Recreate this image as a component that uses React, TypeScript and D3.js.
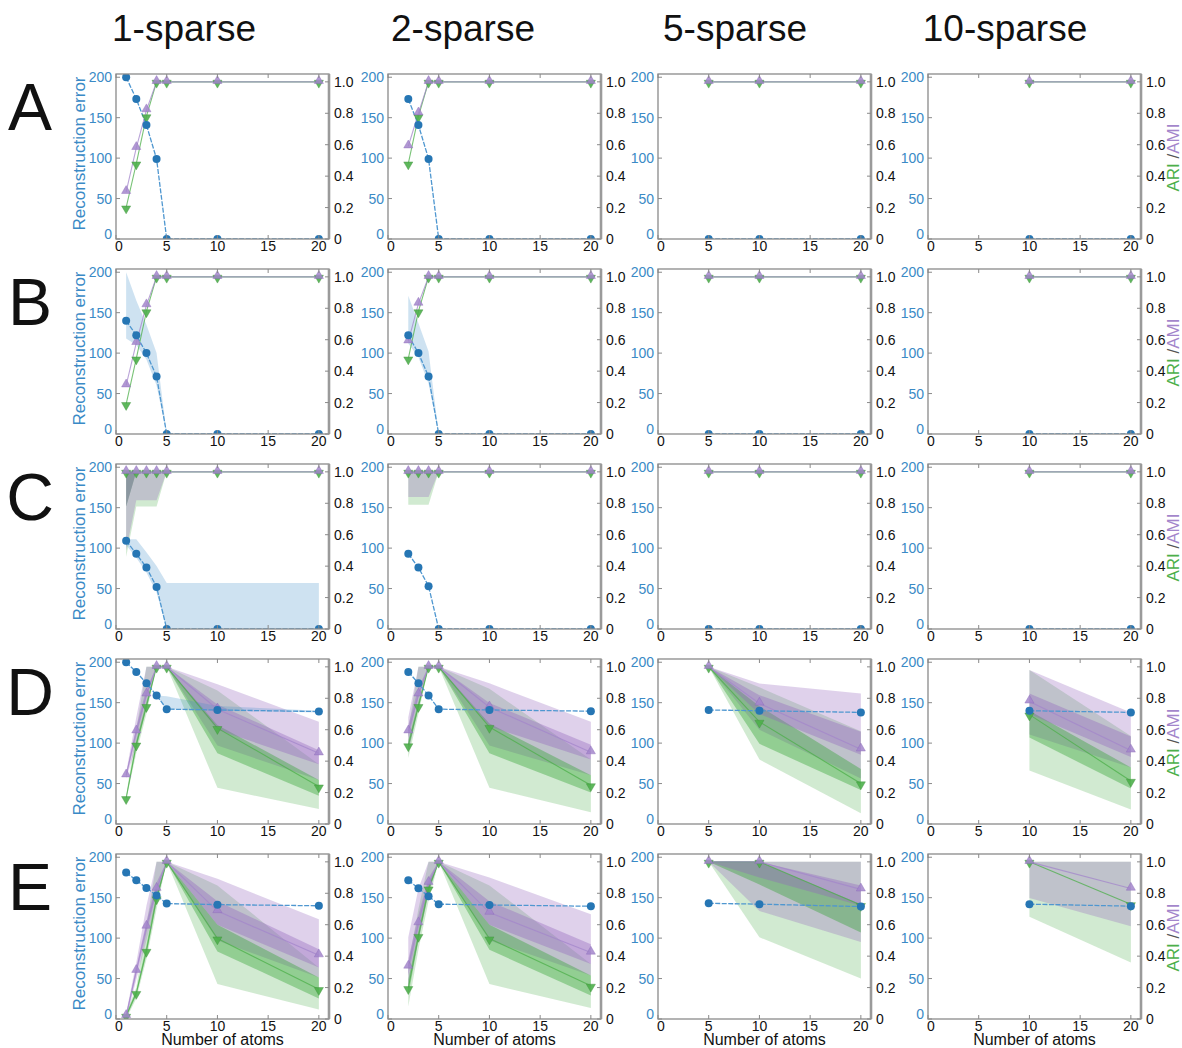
import React from 'react';
import * as d3 from 'd3';

// Column / row headings
const sparsity = ['1-sparse', '2-sparse', '5-sparse', '10-sparse'];
const rowLetters = ['A', 'B', 'C', 'D', 'E'];
// number of atoms evaluated for each sparsity level
const atoms = [[1, 2, 3, 4, 5, 10, 20], [2, 3, 4, 5, 10, 20], [5, 10, 20], [10, 20]];
const xTicks = [0, 5, 10, 15, 20];
const errTicks = [0, 50, 100, 150, 200];
const scoreTicks = [0, 0.2, 0.4, 0.6, 0.8, 1.0];

// Reconstruction error, median per point: [row][column][point]
const recon = [
  [[200, 173, 141, 99, 0, 0, 0], [173, 141, 99, 0, 0, 0], [0, 0, 0], [0, 0]],
  [[140, 122, 100, 71, 0, 0, 0], [122, 100, 71, 0, 0, 0], [0, 0, 0], [0, 0]],
  [[109, 93, 76, 52, 0, 0, 0], [93, 76, 53, 0, 0, 0], [0, 0, 0], [0, 0]],
  [[200, 188, 174, 159, 142, 141, 139], [188, 174, 159, 142, 141, 139.5], [141, 140, 138], [140, 138]],
  [[181, 171.5, 162, 152.6, 142.7, 141.4, 140], [171.5, 161.6, 151.7, 142, 141, 139.4], [143, 142, 139], [142, 139.5]],
];
const reconLo = [
  [null, null, null, null],
  [[118, 110, 92, 60, 0, 0, 0], [112, 95, 62, 0, 0, 0], null, null],
  [[104, 88, 70, 45, 0, 0, 0], null, null, null],
  [[200, 188, 174, 159, 142, 140, 138], null, null, null],
  [null, null, null, null],
];
const reconHi = [
  [null, null, null, null],
  [[200, 165, 135, 100, 0, 0, 0], [171, 137, 102, 0, 0, 0], null, null],
  [[111, 111, 95, 78, 57, 57, 57], null, null, null],
  [[200, 188, 174, 159, 158, 146, 140], null, null, null],
  [null, null, null, null],
];

// AMI medians and bands
const ami = [
  [[0.30, 0.58, 0.82, 1, 1, 1, 1], [0.59, 0.80, 1, 1, 1, 1], [1, 1, 1], [1, 1]],
  [[0.31, 0.58, 0.82, 1, 1, 1, 1], [0.59, 0.83, 1, 1, 1, 1], [1, 1, 1], [1, 1]],
  [[1, 1, 1, 1, 1, 1, 1], [1, 1, 1, 1, 1, 1], [1, 1, 1], [1, 1]],
  [[0.31, 0.59, 0.825, 1, 1, 0.73, 0.45], [0.59, 0.825, 1, 1, 0.743, 0.457], [1, 0.767, 0.475], [0.78, 0.468]],
  [[0.02, 0.307, 0.588, 0.829, 1, 0.687, 0.406], [0.334, 0.61, 0.867, 1, 0.677, 0.423], [1, 1, 0.825], [1, 0.83]],
];
const amiLo95 = [
  [null, null, null, null],
  [null, null, null, null],
  [[0.5, 0.82, 0.82, 0.82, 1, 1, 1], [0.84, 0.84, 0.84, 1, 1, 1], null, null],
  [[0.29, 0.5, 0.75, 1, 1, 0.5, 0.28], [0.45, 0.75, 1, 1, 0.5, 0.31], [1, 0.6, 0.29], [0.57, 0.36]],
  [[0, 0.25, 0.5, 0.75, 1, 0.5, 0.264], [0.2, 0.5, 0.8, 1, 0.5, 0.277], [1, 0.687, 0.49], [0.77, 0.59]],
];
const amiHi95 = [
  [null, null, null, null],
  [null, null, null, null],
  [[1, 1, 1, 1, 1, 1, 1], [1, 1, 1, 1, 1, 1], null, null],
  [[0.33, 0.68, 1, 1, 1, 0.89, 0.65], [0.68, 1, 1, 1, 0.895, 0.65], [1, 0.894, 0.83], [0.98, 0.71]],
  [[0.04, 0.36, 0.72, 1, 1, 0.892, 0.635], [0.52, 0.83, 1, 1, 0.9, 0.666], [1, 1, 1], [1, 1]],
];
const amiLo68 = [
  [null, null, null, null],
  [null, null, null, null],
  [[0.78, 1, 1, 1, 1, 1, 1], null, null, null],
  [[0.30, 0.56, 0.8, 1, 1, 0.6, 0.38], [0.55, 0.8, 1, 1, 0.62, 0.41], [1, 0.7, 0.44], [0.7, 0.426]],
  [[0.01, 0.28, 0.55, 0.8, 1, 0.6, 0.328], [0.28, 0.57, 0.84, 1, 0.6, 0.35], [1, 0.9, 0.72], null],
];
const amiHi68 = [
  [null, null, null, null],
  [null, null, null, null],
  [[1, 1, 1, 1, 1, 1, 1], null, null, null],
  [[0.32, 0.62, 0.86, 1, 1, 0.76, 0.47], [0.63, 0.87, 1, 1, 0.77, 0.505], [1, 0.82, 0.587], [0.83, 0.557]],
  [[0.03, 0.33, 0.62, 0.87, 1, 0.75, 0.444], [0.38, 0.66, 0.9, 1, 0.75, 0.476], [1, 1, 0.85], null],
];

// ARI medians and bands
const ari = [
  [[0.20, 0.48, 0.78, 1, 1, 1, 1], [0.48, 0.78, 1, 1, 1, 1], [1, 1, 1], [1, 1]],
  [[0.19, 0.48, 0.78, 1, 1, 1, 1], [0.48, 0.78, 1, 1, 1, 1], [1, 1, 1], [1, 1]],
  [[1, 1, 1, 1, 1, 1, 1], [1, 1, 1, 1, 1, 1], [1, 1, 1], [1, 1]],
  [[0.164, 0.505, 0.75, 1, 1, 0.61, 0.238], [0.5, 0.75, 1, 1, 0.617, 0.246], [1, 0.65, 0.258], [0.696, 0.274]],
  [[0.02, 0.165, 0.433, 0.767, 1, 0.512, 0.19], [0.196, 0.528, 0.83, 1, 0.512, 0.211], [1, 1, 0.725], [1, 0.73]],
];
const ariLo95 = [
  [null, null, null, null],
  [null, null, null, null],
  [[0.46, 0.78, 0.78, 0.78, 1, 1, 1], [0.79, 0.79, 0.79, 1, 1, 1], null, null],
  [[0.15, 0.45, 0.7, 1, 1, 0.23, 0.095], [0.42, 0.7, 1, 1, 0.23, 0.074], [1, 0.41, 0.068], [0.34, 0.093]],
  [[0, 0.13, 0.38, 0.7, 1, 0.222, 0.06], [0.08, 0.44, 0.75, 1, 0.222, 0.07], [1, 0.52, 0.258], [0.65, 0.36]],
];
const ariHi95 = [
  [null, null, null, null],
  [null, null, null, null],
  [[1, 1, 1, 1, 1, 1, 1], [1, 1, 1, 1, 1, 1], null, null],
  [[0.18, 0.6, 1, 1, 1, 0.85, 0.38], [0.6, 1, 1, 1, 0.86, 0.41], [1, 0.87, 0.59], [0.98, 0.56]],
  [[0.04, 0.2, 0.6, 1, 1, 0.85, 0.328], [0.35, 0.7, 1, 1, 0.85, 0.35], [1, 1, 1], [1, 1]],
];
const ariLo68 = [
  [null, null, null, null],
  [null, null, null, null],
  [[0.78, 1, 1, 1, 1, 1, 1], null, null, null],
  [[0.16, 0.48, 0.73, 1, 1, 0.45, 0.18], [0.47, 0.73, 1, 1, 0.45, 0.2], [1, 0.51, 0.216], [0.55, 0.226]],
  [[0.01, 0.15, 0.41, 0.74, 1, 0.43, 0.131], [0.15, 0.5, 0.8, 1, 0.44, 0.15], [1, 0.856, 0.55], null],
];
const ariHi68 = [
  [null, null, null, null],
  [null, null, null, null],
  [[1, 1, 1, 1, 1, 1, 1], null, null, null],
  [[0.17, 0.53, 0.78, 1, 1, 0.63, 0.28], [0.53, 0.78, 1, 1, 0.64, 0.31], [1, 0.75, 0.35], [0.72, 0.36]],
  [[0.03, 0.18, 0.47, 0.8, 1, 0.6, 0.264], [0.25, 0.56, 0.86, 1, 0.6, 0.277], [1, 1, 0.73], null],
];

// Layout
const W = 1182;
const H = 1048;
const colX = [116, 388, 658, 928];
const rowY = [74, 269, 464, 659, 854];
const PW = 213;
const PH = 165;
const titleDx = [68, 75, 77, 77];
const FONT = '"Liberation Sans", Arial, Helvetica, sans-serif';

const BLUE = '#2676b4';
const BLUE_TEXT = '#3a8ac6';
const BLUE_LINE = '#4f97d0';
const PURPLE = '#9467bd';
const PURPLE_MK = '#a386cb';
const GREEN = '#2ca02c';
const GREEN_MK = '#4caf4a';
const FRAME = '#8a8a8a';

type Arr = number[] | null;

function Panel({ r, c }: { r: number; c: number }) {
  const x0 = colX[c];
  const y0 = rowY[r];
  const xs = atoms[c];
  const x = d3.scaleLinear().domain([0, 21]).range([x0, x0 + PW]);
  const yL = d3.scaleLinear().domain([0, 204]).range([y0 + PH, y0]);
  const yR = d3.scaleLinear().domain([0, 1.05]).range([y0 + PH, y0]);

  const area = (lo: Arr, hi: Arr, y: d3.ScaleLinear<number, number>) => {
    if (!lo || !hi) return null;
    return d3
      .area<number>()
      .x((d) => x(d))
      .y0((_, i) => y(lo[i]))
      .y1((_, i) => y(hi[i]))(xs);
  };
  const line = (v: number[], y: d3.ScaleLinear<number, number>) =>
    d3
      .line<number>()
      .x((d) => x(d))
      .y((_, i) => y(v[i]))(xs);

  const triUp = d3.symbol().type(d3.symbolTriangle).size(36)() as string;

  const clipId = `clip-${r}-${c}`;
  const bands = [
    { d: area(ariLo95[r][c], ariHi95[r][c], yR), fill: GREEN, op: 0.22 },
    { d: area(amiLo95[r][c], amiHi95[r][c], yR), fill: PURPLE, op: 0.3 },
    { d: area(ariLo68[r][c], ariHi68[r][c], yR), fill: GREEN, op: 0.38 },
    { d: area(amiLo68[r][c], amiHi68[r][c], yR), fill: PURPLE, op: 0.38 },
    { d: area(reconLo[r][c], reconHi[r][c], yL), fill: '#3d8ac9', op: 0.25 },
  ];

  return (
    <g>
      <defs>
        <clipPath id={clipId}>
          <rect x={x0} y={y0} width={PW} height={PH} />
        </clipPath>
      </defs>
      <g clipPath={`url(#${clipId})`}>
        {bands.map((b, i) => (b.d ? <path key={i} d={b.d} fill={b.fill} fillOpacity={b.op} stroke="none" /> : null))}
        <path d={line(ari[r][c], yR) || ''} fill="none" stroke={GREEN_MK} strokeWidth={1.1} strokeOpacity={0.75} />
        <path d={line(ami[r][c], yR) || ''} fill="none" stroke={PURPLE_MK} strokeWidth={1.1} strokeOpacity={0.75} />
        <path d={line(recon[r][c], yL) || ''} fill="none" stroke={BLUE_LINE} strokeWidth={1.3} strokeDasharray="5,1.5" />
        {xs.map((d, i) => (
          <path
            key={`g${i}`}
            d={triUp}
            transform={`translate(${x(d)},${yR(ari[r][c][i]) + 1}) rotate(180)`}
            fill={GREEN_MK}
            fillOpacity={0.9}
            stroke="#3f8f3d"
            strokeWidth={0.4}
          />
        ))}
        {xs.map((d, i) => (
          <path
            key={`p${i}`}
            d={triUp}
            transform={`translate(${x(d)},${yR(ami[r][c][i]) - 1})`}
            fill={PURPLE_MK}
            fillOpacity={0.85}
            stroke="#8a6bb8"
            strokeWidth={0.4}
          />
        ))}
        {xs.map((d, i) => (
          <circle key={`b${i}`} cx={x(d)} cy={yL(recon[r][c][i])} r={4} fill={BLUE} />
        ))}
      </g>

      {/* frame and inward ticks */}
      <rect x={x0} y={y0} width={PW} height={PH} fill="none" stroke={FRAME} strokeWidth={1.3} />
      <line x1={x0 + PW} x2={x0 + PW} y1={y0} y2={y0 + PH} stroke="#9a9a9a" strokeWidth={2.6} />
      {xTicks.map((t) => (
        <g key={`xt${t}`} stroke={FRAME} strokeWidth={1}>
          <line x1={x(t)} x2={x(t)} y1={y0 + PH} y2={y0 + PH - 4} />
          <line x1={x(t)} x2={x(t)} y1={y0} y2={y0 + 4} />
        </g>
      ))}
      {errTicks.map((t) => (
        <line key={`lt${t}`} x1={x0} x2={x0 + 4} y1={yL(t)} y2={yL(t)} stroke={FRAME} strokeWidth={1} />
      ))}
      {scoreTicks.map((t) => (
        <line key={`rt${t}`} x1={x0 + PW - 4} x2={x0 + PW} y1={yR(t)} y2={yR(t)} stroke={FRAME} strokeWidth={1} />
      ))}

      {/* tick labels */}
      {xTicks.map((t) => (
        <text key={`xl${t}`} x={x(t) + (t === 0 ? 3 : 0)} y={y0 + PH + 11.5} textAnchor="middle" fontSize={14} fill="#111">
          {t}
        </text>
      ))}
      {errTicks.map((t) => (
        <text key={`ll${t}`} x={x0 - 4} y={yL(t) + 5 - (t === 0 ? 5 : 0)} textAnchor="end" fontSize={14} fill={BLUE_TEXT}>
          {t}
        </text>
      ))}
      {scoreTicks.map((t) => (
        <text key={`rl${t}`} x={x0 + PW + 5} y={yR(t) + 5} textAnchor="start" fontSize={14} fill="#111">
          {t === 0 ? '0' : t.toFixed(1)}
        </text>
      ))}

      {c === 0 && (
        <text
          transform={`translate(${x0 - 31},${y0 + PH / 2 - 3}) rotate(-90)`}
          textAnchor="middle"
          fontSize={17}
          fill={BLUE_TEXT}
        >
          Reconstruction error
        </text>
      )}
      {c === 3 && (
        <text
          transform={`translate(${x0 + PW + 38},${y0 + PH / 2 + 1}) rotate(-90)`}
          textAnchor="middle"
          fontSize={17}
        >
          <tspan fill={GREEN_MK}>ARI</tspan>
          <tspan fill="#555"> /</tspan>
          <tspan fill={PURPLE_MK}>AMI</tspan>
        </text>
      )}
      {r === 4 && (
        <text x={x0 + PW / 2} y={y0 + PH + 25.5} textAnchor="middle" fontSize={16} fill="#111">
          Number of atoms
        </text>
      )}
    </g>
  );
}

export default function App() {
  return (
    <svg
      width={W}
      height={H}
      viewBox={`0 0 ${W} ${H}`}
      style={{ position: 'absolute', left: 0, top: 0, background: '#fff' }}
      fontFamily={FONT}
    >
      <rect x={0} y={0} width={W} height={H} fill="#fff" />
      {sparsity.map((s, c) => (
        <text key={s} x={colX[c] + titleDx[c]} y={41} textAnchor="middle" fontSize={37} fill="#111">
          {s}
        </text>
      ))}
      {rowLetters.map((l, r) => (
        <text key={l} x={30} y={rowY[r] + 56} textAnchor="middle" fontSize={66} fill="#111">
          {l}
        </text>
      ))}
      {rowLetters.map((_, r) => sparsity.map((_, c) => <Panel key={`${r}-${c}`} r={r} c={c} />))}
    </svg>
  );
}
